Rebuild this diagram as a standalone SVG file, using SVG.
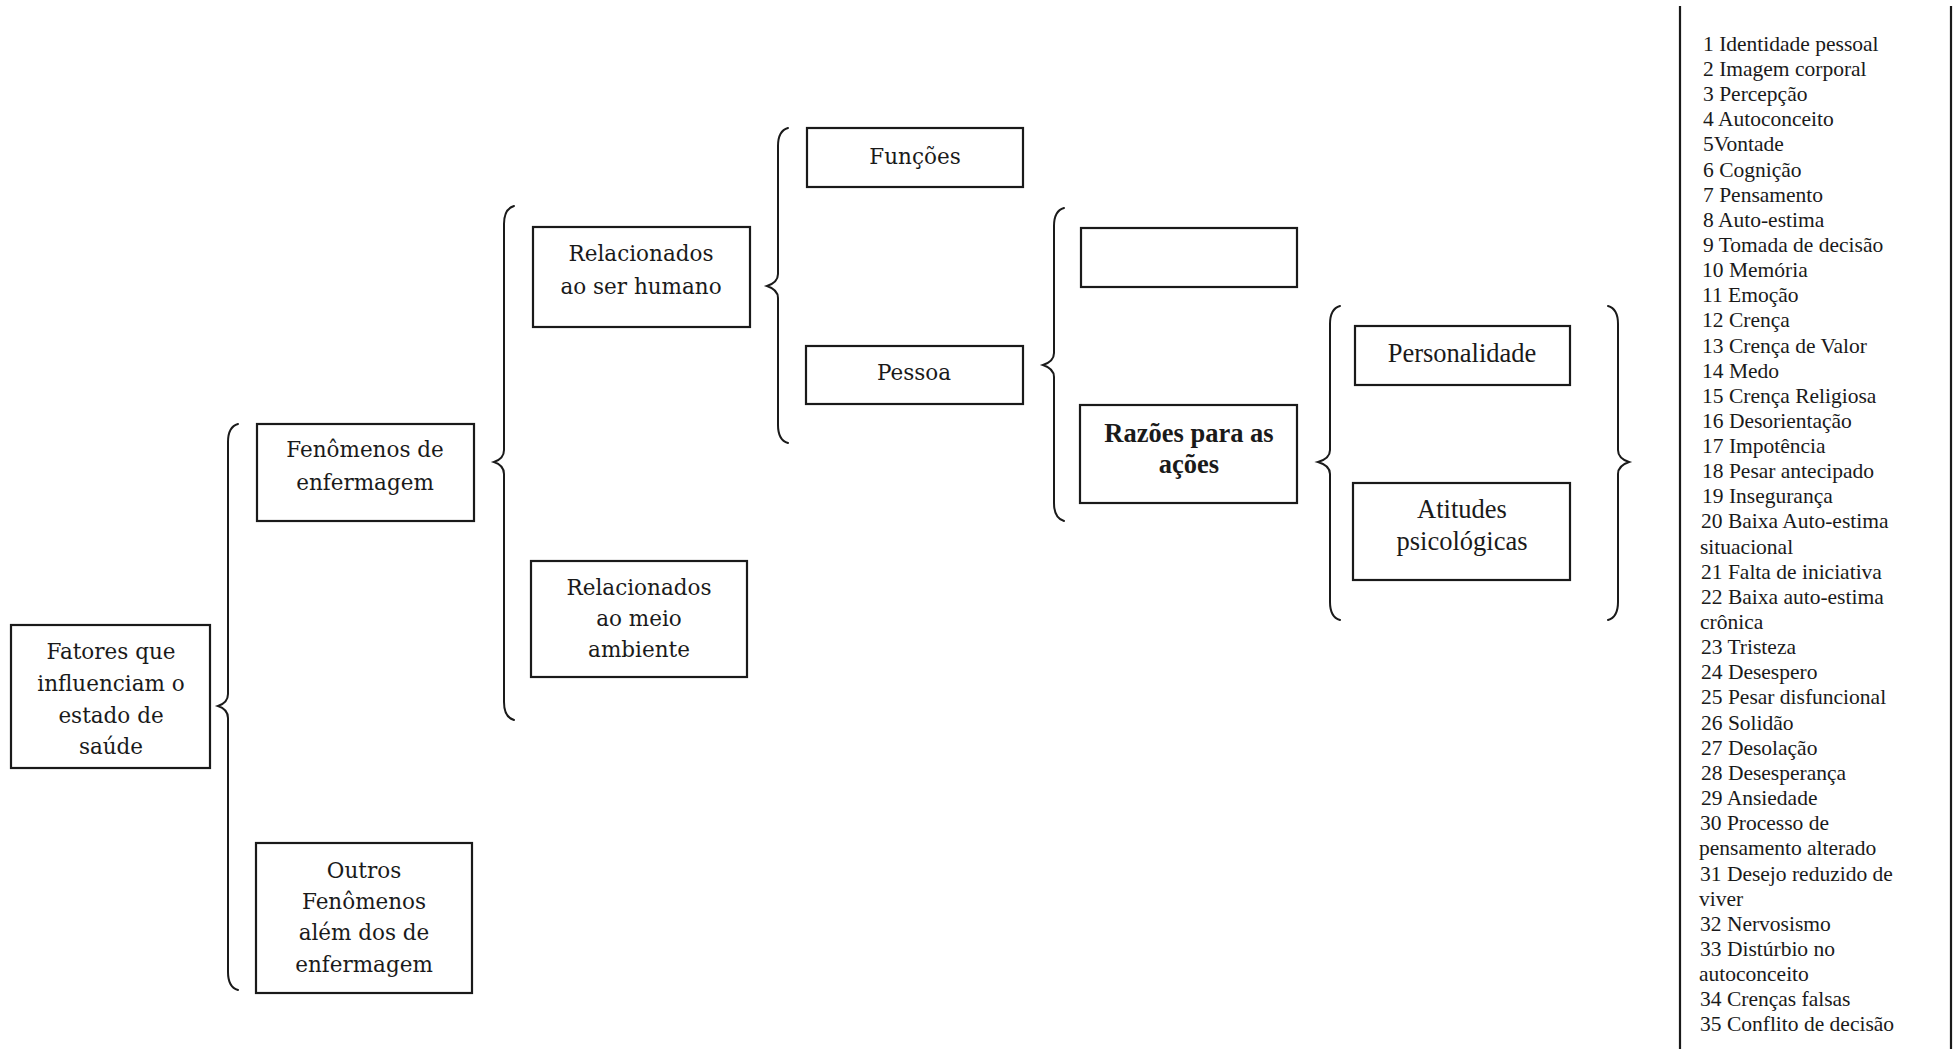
<svg xmlns="http://www.w3.org/2000/svg" width="1956" height="1049" viewBox="0 0 1956 1049">
<style>
.box{fill:none;stroke:#1a1a1a;stroke-width:2.2}
.br{fill:none;stroke:#1a1a1a;stroke-width:2;stroke-linecap:round}
.t1{font-family:"DejaVu Serif",serif;font-size:21.5px;fill:#1a1a1a;text-anchor:middle}
.t2{font-family:"Liberation Serif",serif;font-size:26.5px;fill:#1a1a1a;text-anchor:middle}
.t2b{font-family:"Liberation Serif",serif;font-size:26.5px;font-weight:bold;fill:#1a1a1a;text-anchor:middle}
.lg{font-family:"Liberation Serif",serif;font-size:21.5px;fill:#1a1a1a}
.ln{stroke:#1a1a1a;stroke-width:2.2}
</style>
<rect width="1956" height="1049" fill="#fff"/>
<g id="connectors">
<path class="br" d="M238,424 C231,426 228,432 228,442 L228,694 C228,700 224,704 218,706 C224,708 228,712 228,718 L228,972 C228,982 231,988 238,990"/>
<path class="br" d="M514,206 C507,208 504,214 504,224 L504,450 C504,456 500,460 494,462 C500,464 504,468 504,474 L504,702 C504,712 507,718 514,720"/>
<path class="br" d="M788,128 C781,130 778,136 778,146 L778,274 C778,280 773,284 767,286 C773,288 778,292 778,298 L778,425 C778,435 781,441 788,443"/>
<path class="br" d="M1064,208 C1057,210 1054,216 1054,226 L1054,353 C1054,359 1049,363 1043,365 C1049,367 1054,371 1054,377 L1054,503 C1054,513 1057,519 1064,521"/>
<path class="br" d="M1340,306 C1333,308 1330,314 1330,324 L1330,450 C1330,456 1325,460 1318,462 C1325,464 1330,468 1330,474 L1330,602 C1330,612 1333,618 1340,620"/>
<path class="br" d="M1608,306 C1615,308 1618,314 1618,324 L1618,450 C1618,456 1623,460 1629,462 C1623,464 1618,468 1618,474 L1618,602 C1618,612 1615,618 1608,620"/>
</g>
<g id="n-fatores">
<rect class="box" x="11" y="625" width="199" height="143"/>
<text class="t1" x="111" y="659">Fatores que</text>
<text class="t1" x="111" y="691">influenciam o</text>
<text class="t1" x="111" y="723">estado de</text>
<text class="t1" x="111" y="754">saúde</text>
</g>
<g id="n-fenomenos">
<rect class="box" x="257" y="424" width="217" height="97"/>
<text class="t1" x="365" y="457">Fenômenos de</text>
<text class="t1" x="365" y="490">enfermagem</text>
</g>
<g id="n-outros">
<rect class="box" x="256" y="843" width="216" height="150"/>
<text class="t1" x="364" y="878">Outros</text>
<text class="t1" x="364" y="909">Fenômenos</text>
<text class="t1" x="364" y="940">além dos de</text>
<text class="t1" x="364" y="972">enfermagem</text>
</g>
<g id="n-humano">
<rect class="box" x="533" y="227" width="217" height="100"/>
<text class="t1" x="641" y="261">Relacionados</text>
<text class="t1" x="641" y="294">ao ser humano</text>
</g>
<g id="n-ambiente">
<rect class="box" x="531" y="561" width="216" height="116"/>
<text class="t1" x="639" y="595">Relacionados</text>
<text class="t1" x="639" y="626">ao meio</text>
<text class="t1" x="639" y="657">ambiente</text>
</g>
<g id="n-funcoes">
<rect class="box" x="807" y="128" width="216" height="59"/>
<text class="t1" x="915" y="164">Funções</text>
</g>
<g id="n-pessoa">
<rect class="box" x="806" y="346" width="217" height="58"/>
<text class="t1" x="914" y="380">Pessoa</text>
</g>
<g id="n-vazio">
<rect class="box" x="1081" y="228" width="216" height="59"/>
</g>
<g id="n-razoes">
<rect class="box" x="1080" y="405" width="217" height="98"/>
<text class="t2b" x="1189" y="442">Razões para as</text>
<text class="t2b" x="1189" y="473">ações</text>
</g>
<g id="n-personalidade">
<rect class="box" x="1355" y="326" width="215" height="59"/>
<text class="t2" x="1462" y="362">Personalidade</text>
</g>
<g id="n-atitudes">
<rect class="box" x="1353" y="483" width="217" height="97"/>
<text class="t2" x="1462" y="518">Atitudes</text>
<text class="t2" x="1462" y="550">psicológicas</text>
</g>
<g id="legenda">
<line class="ln" x1="1680" y1="6" x2="1680" y2="1049"/>
<line class="ln" x1="1951" y1="6" x2="1951" y2="1049"/>
<text class="lg" x="1703" y="51">1 Identidade pessoal</text>
<text class="lg" x="1703" y="76">2 Imagem corporal</text>
<text class="lg" x="1703" y="101">3 Percepção</text>
<text class="lg" x="1703" y="126">4 Autoconceito</text>
<text class="lg" x="1703" y="151">5Vontade</text>
<text class="lg" x="1703" y="177">6 Cognição</text>
<text class="lg" x="1703" y="202">7 Pensamento</text>
<text class="lg" x="1703" y="227">8 Auto-estima</text>
<text class="lg" x="1703" y="252">9 Tomada de decisão</text>
<text class="lg" x="1702" y="277">10 Memória</text>
<text class="lg" x="1702" y="302">11 Emoção</text>
<text class="lg" x="1702" y="327">12 Crença</text>
<text class="lg" x="1702" y="353">13 Crença de Valor</text>
<text class="lg" x="1702" y="378">14 Medo</text>
<text class="lg" x="1702" y="403">15 Crença Religiosa</text>
<text class="lg" x="1702" y="428">16 Desorientação</text>
<text class="lg" x="1702" y="453">17 Impotência</text>
<text class="lg" x="1702" y="478">18 Pesar antecipado</text>
<text class="lg" x="1702" y="503">19 Insegurança</text>
<text class="lg" x="1701" y="528">20 Baixa Auto-estima</text>
<text class="lg" x="1700" y="554">situacional</text>
<text class="lg" x="1701" y="579">21 Falta de iniciativa</text>
<text class="lg" x="1701" y="604">22 Baixa auto-estima</text>
<text class="lg" x="1700" y="629">crônica</text>
<text class="lg" x="1701" y="654">23 Tristeza</text>
<text class="lg" x="1701" y="679">24 Desespero</text>
<text class="lg" x="1701" y="704">25 Pesar disfuncional</text>
<text class="lg" x="1701" y="730">26 Solidão</text>
<text class="lg" x="1701" y="755">27 Desolação</text>
<text class="lg" x="1701" y="780">28 Desesperança</text>
<text class="lg" x="1701" y="805">29 Ansiedade</text>
<text class="lg" x="1700" y="830">30 Processo de</text>
<text class="lg" x="1699" y="855">pensamento alterado</text>
<text class="lg" x="1700" y="881">31 Desejo reduzido de</text>
<text class="lg" x="1699" y="906">viver</text>
<text class="lg" x="1700" y="931">32 Nervosismo</text>
<text class="lg" x="1700" y="956">33 Distúrbio no</text>
<text class="lg" x="1699" y="981">autoconceito</text>
<text class="lg" x="1700" y="1006">34 Crenças falsas</text>
<text class="lg" x="1700" y="1031">35 Conflito de decisão</text>
</g>
</svg>
